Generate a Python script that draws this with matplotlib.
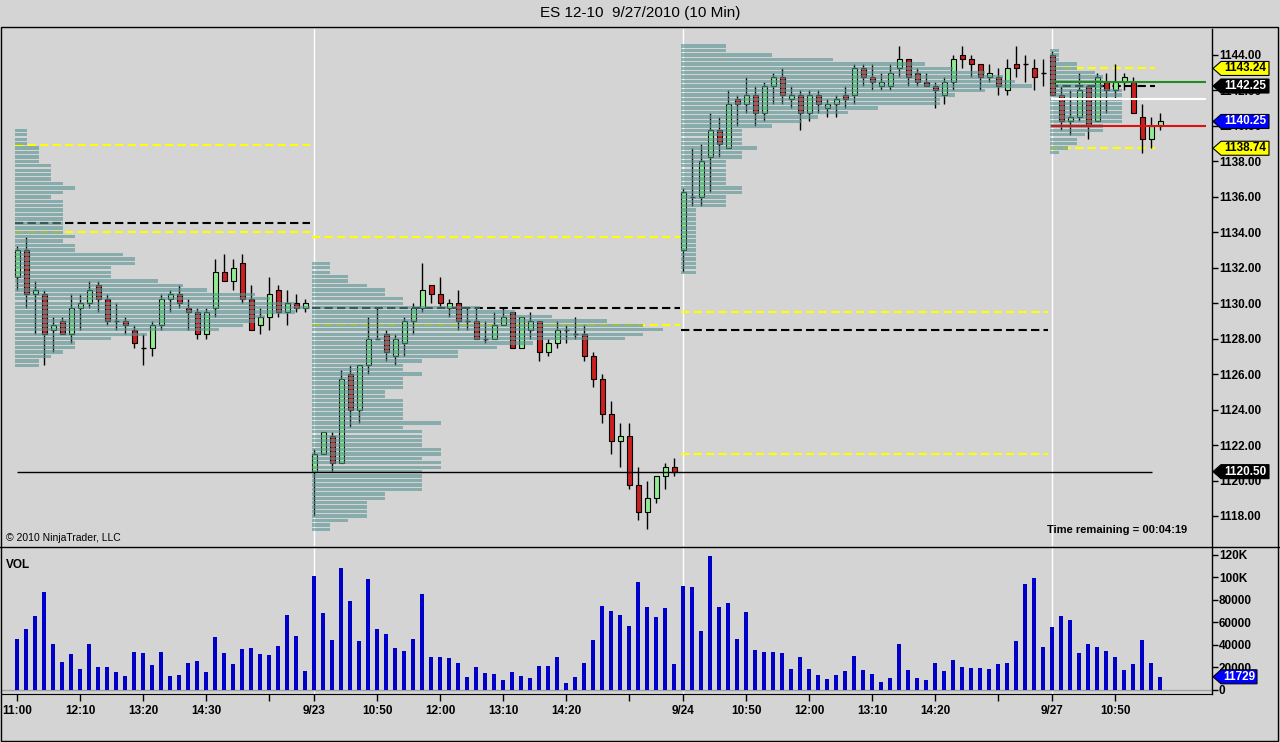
import matplotlib
matplotlib.use("Agg")
import matplotlib.pyplot as plt
import numpy as np
from matplotlib.patches import Polygon, Rectangle
from matplotlib.lines import Line2D
from matplotlib.transforms import IdentityTransform

plt.rcParams["font.family"] = ["Liberation Sans", "DejaVu Sans"]

# ---- data: ES 12-10, 10 minute bars, 9/22 (from 11:00) .. 9/27 ----
opens = [
    1131.5, 1133.0, 1130.5, 1130.5, 1128.5, 1129.0, 1128.25, 1129.75, 1130.0, 1131.0,
    1130.25, 1129.0, 1129.0, 1128.5, 1127.5, 1127.5, 1128.75, 1130.25, 1130.5, 1129.75,
    1129.5, 1128.25, 1129.75, 1131.75, 1131.25, 1132.25, 1130.25, 1128.75, 1129.25, 1130.75,
    1129.5, 1130.0, 1129.75,
    1120.5, 1121.5, 1122.5, 1121.0, 1126.0, 1124.0, 1126.5, 1128.0, 1128.25, 1127.0,
    1127.75, 1129.0, 1129.75, 1131.0, 1130.5, 1129.75, 1130.0, 1129.0, 1129.0, 1128.0,
    1128.0, 1128.75, 1129.5, 1127.5, 1128.5, 1129.0, 1127.25, 1127.75, 1128.5, 1128.25,
    1128.25, 1127.0, 1125.75, 1123.75, 1122.25, 1122.5, 1119.75, 1118.25, 1119.0, 1120.25,
    1120.75,
    1133.0, 1136.0, 1136.0, 1138.25, 1139.75, 1138.75, 1141.5, 1141.25, 1141.75, 1140.75,
    1142.25, 1142.75, 1141.5, 1141.75, 1140.75, 1141.75, 1141.0, 1141.25, 1141.75, 1141.75,
    1143.25, 1142.75, 1142.25, 1142.25, 1143.25, 1143.75, 1143.0, 1142.5, 1142.25, 1141.75,
    1142.5, 1144.0, 1143.75, 1143.5, 1142.75, 1142.75, 1142.0, 1143.5, 1143.5, 1143.25,
    1143.0,
    1144.0, 1141.75, 1140.25, 1140.5, 1142.25, 1140.25, 1142.5, 1142.0, 1142.5, 1142.5,
    1140.5, 1139.25, 1140.0,
]
highs = [
    1133.25, 1133.75, 1131.25, 1130.75, 1129.25, 1129.25, 1130.5, 1130.5, 1131.25, 1131.25,
    1130.5, 1130.0, 1129.25, 1128.75, 1128.25, 1129.0, 1130.5, 1130.75, 1131.0, 1130.25,
    1129.75, 1129.75, 1132.5, 1132.75, 1132.5, 1132.75, 1131.0, 1129.75, 1131.5, 1131.0,
    1130.75, 1130.5, 1130.25,
    1121.75, 1122.75, 1122.75, 1126.25, 1126.5, 1126.5, 1129.25, 1129.75, 1128.5, 1128.25,
    1129.25, 1130.0, 1132.25, 1131.0, 1131.5, 1130.25, 1130.75, 1129.75, 1129.75, 1129.0,
    1129.5, 1129.75, 1129.5, 1129.25, 1129.5, 1129.0, 1128.0, 1129.0, 1128.75, 1129.25,
    1128.75, 1127.25, 1126.0, 1124.5, 1123.25, 1123.25, 1120.75, 1120.0, 1120.25, 1121.0,
    1121.25,
    1136.5, 1138.75, 1139.0, 1140.75, 1140.5, 1142.0, 1141.75, 1142.75, 1142.25, 1142.5,
    1143.0, 1143.25, 1142.25, 1142.0, 1142.0, 1142.0, 1141.5, 1141.75, 1142.25, 1143.5,
    1143.5, 1143.5, 1143.0, 1143.5, 1144.5, 1143.75, 1143.25, 1143.0, 1142.5, 1142.75,
    1144.0, 1144.5, 1144.0, 1143.5, 1143.5, 1143.25, 1143.75, 1144.5, 1144.0, 1143.75,
    1143.75,
    1144.25, 1142.25, 1142.0, 1143.0, 1142.25, 1143.0, 1143.0, 1143.5, 1143.0, 1142.75,
    1141.25, 1140.5, 1140.75,
]
lows = [
    1130.75, 1129.75, 1128.25, 1126.5, 1127.25, 1128.25, 1127.75, 1128.5, 1129.75, 1129.5,
    1128.75, 1128.5, 1128.25, 1127.5, 1126.5, 1127.0, 1128.5, 1129.5, 1129.75, 1128.5,
    1128.0, 1128.0, 1129.25, 1131.25, 1130.75, 1130.0, 1128.5, 1128.25, 1128.5, 1129.25,
    1128.75, 1129.5, 1129.5,
    1118.0, 1121.5, 1120.5, 1121.0, 1123.0, 1123.25, 1126.0, 1128.0, 1126.75, 1126.5,
    1127.0, 1128.25, 1129.5, 1130.0, 1129.75, 1129.25, 1128.5, 1128.5, 1128.0, 1127.75,
    1128.0, 1128.75, 1127.5, 1127.5, 1128.0, 1126.75, 1127.0, 1127.5, 1127.75, 1128.0,
    1126.75, 1125.25, 1123.25, 1121.5, 1120.75, 1119.5, 1117.75, 1117.25, 1118.75, 1119.5,
    1120.25,
    1131.75, 1135.5, 1135.5, 1136.25, 1138.25, 1138.75, 1140.0, 1140.75, 1140.0, 1140.25,
    1141.25, 1141.25, 1141.0, 1139.75, 1140.25, 1140.75, 1140.5, 1140.5, 1141.0, 1141.25,
    1142.25, 1142.0, 1142.0, 1142.0, 1142.75, 1142.25, 1142.25, 1142.25, 1141.0, 1141.25,
    1142.0, 1143.25, 1142.75, 1142.0, 1142.5, 1141.75, 1141.75, 1142.75, 1142.5, 1142.0,
    1142.25,
    1141.75, 1139.75, 1139.5, 1140.25, 1139.25, 1140.25, 1140.75, 1141.5, 1142.0, 1140.75,
    1138.5, 1138.75, 1139.75,
]
closes = [
    1133.0, 1130.5, 1130.75, 1128.25, 1128.75, 1128.25, 1129.75, 1130.0, 1130.75, 1130.25,
    1129.0, 1129.0, 1128.75, 1127.75, 1127.5, 1128.75, 1130.25, 1130.5, 1130.0, 1129.5,
    1128.25, 1129.5, 1131.75, 1131.25, 1132.0, 1130.25, 1128.5, 1129.25, 1130.5, 1129.5,
    1130.0, 1129.75, 1130.0,
    1121.5, 1122.75, 1121.0, 1125.75, 1124.0, 1126.5, 1128.0, 1128.0, 1127.25, 1128.0,
    1129.0, 1129.75, 1130.75, 1130.5, 1130.0, 1130.0, 1129.0, 1129.0, 1128.0, 1128.0,
    1128.75, 1129.25, 1127.5, 1129.25, 1129.0, 1127.25, 1127.75, 1128.5, 1128.5, 1128.25,
    1127.0, 1125.75, 1123.75, 1122.25, 1122.5, 1119.75, 1118.25, 1119.0, 1120.25, 1120.75,
    1120.5,
    1136.25, 1136.0, 1138.0, 1139.75, 1139.0, 1141.25, 1141.25, 1141.75, 1140.75, 1142.25,
    1142.75, 1141.75, 1141.75, 1140.75, 1141.75, 1141.25, 1141.25, 1141.5, 1141.5, 1143.25,
    1142.75, 1142.5, 1142.5, 1143.0, 1143.75, 1142.75, 1142.5, 1142.25, 1142.0, 1142.5,
    1143.75, 1143.75, 1143.5, 1142.75, 1143.0, 1142.25, 1143.25, 1143.25, 1143.5, 1142.75,
    1143.0,
    1141.75, 1140.25, 1140.5, 1142.0, 1140.0, 1142.75, 1142.0, 1142.5, 1142.75, 1140.75,
    1139.25, 1140.0, 1140.25,
]
volumes = [
    45300, 54200, 65800, 87100, 40900, 24900, 32000, 18700, 40900, 20400,
    20400, 16000, 12400, 33800, 32900, 22200, 33800, 12400, 13300, 24000,
    25800, 16000, 47100, 32900, 23100, 36400, 37300, 32000, 31100, 39100,
    66700, 48000, 16900,
    101300, 68400, 44400, 108400, 79100, 43600, 98700, 54200, 49800, 37300,
    34700, 45300, 85300, 29300, 29300, 28400, 24000, 11600, 20400, 15100,
    14200, 8900, 16000, 12400, 10700, 21300, 21300, 29300, 6200, 11600,
    24000, 44400, 74700, 70200, 66700, 56900, 96000, 73800, 64900, 72900,
    23100,
    92400, 91600, 52400, 119100, 73800, 77300, 45300, 69300, 35600, 33800,
    33800, 32900, 18700, 29300, 18700, 13300, 9800, 13300, 16900, 30200,
    17800, 14200, 7100, 10700, 40900, 17800, 10700, 8900, 24000, 16900,
    26700, 20400, 19600, 19600, 18700, 23100, 24000, 43600, 94200, 99600,
    38200,
    56000, 65800, 62200, 32900, 40900, 38200, 34700, 29300, 17800, 23100,
    44400, 24000, 11729,
]

# first bar of each session (bar index)
session_starts = [0, 33, 74, 115]

# volume profile per session: top price and relative volume per 0.25 row (top to bottom)
profile_tops = [1139.75, 1132.25, 1144.5, 1144.25]
profile_day1 = [12, 12, 12, 12, 24, 24, 24, 24, 36, 36, 36, 36, 48, 60, 48, 36,
                48, 48, 48, 48, 48, 48, 48, 48, 60, 48, 60, 60, 108, 120, 120, 96,
                96, 96, 143, 168, 192, 240, 255, 280, 295, 280, 250, 240, 228, 204,
                132, 96, 60, 60, 48, 36, 24, 24]
profile_day2 = [18, 18, 18, 36, 36, 55, 73, 73, 91, 91, 168, 203, 240, 295, 331,
                351, 331, 313, 221, 185, 146, 146, 110, 91, 91, 110, 91, 91, 91, 73,
                73, 91, 91, 91, 91, 91, 129, 91, 110, 110, 110, 110, 129, 129, 110,
                129, 129, 110, 110, 110, 110, 110, 73, 73, 55, 55, 55, 55, 36, 18, 18]
profile_day3 = [45, 45, 91, 152, 244, 272, 304, 322, 334, 351, 304, 274, 259, 259,
                197, 167, 137, 121, 91, 61, 61, 61, 61, 76, 61, 61, 45, 45, 45, 45,
                45, 45, 61, 61, 45, 45, 45] + [15] * 15
profile_day4 = [9, 9, 9, 27, 27, 45, 53, 53, 53, 72, 72, 72, 72, 72, 72, 72, 72,
                53, 53, 35, 27, 27, 18, 9]
profiles = [profile_day1, profile_day2, profile_day3, profile_day4]

# prior-session value area high / POC / value area low, drawn in each session
va_high = [1138.9, 1133.75, 1129.5, 1143.24]
poc = [1134.5, 1129.75, 1128.5, 1142.25]
va_low = [1134.0, 1128.75, 1121.5, 1138.74]
level_ends = [32.5, 73.6, 114.5, 126.4]

prior_close = 1120.5
ib_high, ib_mid, ib_low = 1142.5, 1141.5, 1140.0

price_ticks = np.arange(1118, 1145, 2)
vol_ticks = [0, 20000, 40000, 60000, 80000, 100000, 120000]
vol_tick_labels = ["0", "20000", "40000", "60000", "80000", "100K", "120K"]
time_ticks = [0, 7, 14, 21, 28, 33, 40, 47, 54, 61, 68, 74, 81, 88, 95, 102, 109, 115, 122]
time_labels = ["11:00", "12:10", "13:20", "14:30", "", "9/23", "10:50", "12:00", "13:10",
               "14:20", "", "9/24", "10:50", "12:00", "13:10", "14:20", "", "9/27", "10:50"]

# ---- style ----
BG = "#D4D4D4"
UP = "#90EE90"
DOWN = "#CC1F1F"
PROFILE = "#5A9494"
VOLC = "#0000C8"
BODY_W = 0.55
PROFILE_SCALE = 1 / 9.0  # bars per profile unit
W, H = 1280, 742


def box(x0, y0, x1, y1):
    return [x0 / W, 1 - y1 / H, (x1 - x0) / W, (y1 - y0) / H]


fig = plt.figure(figsize=(W / 100, H / 100), dpi=100, facecolor=BG)
ax = fig.add_axes(box(2, 29, 1212, 546), facecolor=BG)
axv = fig.add_axes(box(2, 548, 1212, 694), facecolor=BG)

xlim = ((2 - 17.3) / 9, (1212 - 17.3) / 9)
for a in (ax, axv):
    a.set_xlim(*xlim)
    for s in ("left", "top"):
        a.spines[s].set_visible(False)
    a.spines["right"].set_linewidth(1)
ax.spines["bottom"].set_visible(False)
ax.set_ylim(1116.307, 1145.466)
axv.set_ylim(-3556, 126200)

for s in session_starts[1:]:
    ax.axvline(s, color="white", lw=1, zorder=0.5)
    axv.axvline(s, color="white", lw=1, zorder=0.5)

# candles
idx = np.arange(len(opens))
o, hi, lo, c = (np.array(v) for v in (opens, highs, lows, closes))
up, dn, flat = c > o, c < o, c == o
ax.vlines(idx, lo, hi, color="black", lw=1, zorder=2)
ax.bar(idx[up], (c - o)[up], bottom=o[up], width=BODY_W, color=UP,
       edgecolor="black", lw=0.8, zorder=3)
ax.bar(idx[dn], (o - c)[dn], bottom=c[dn], width=BODY_W, color=DOWN,
       edgecolor="black", lw=0.8, zorder=3)
ax.hlines(c[flat], idx[flat] - BODY_W / 2, idx[flat] + BODY_W / 2,
          color="black", lw=1, zorder=3)

# profiles and prior-session levels
dash = (0, (4, 2))
for k, start in enumerate(session_starts):
    vals = np.array(profiles[k], dtype=float)
    rows = profile_tops[k] - 0.25 * np.arange(len(vals))
    ax.barh(rows, vals * PROFILE_SCALE, left=start - 0.25, height=0.19,
            color=PROFILE, alpha=0.62, lw=0, zorder=4)
    x0, x1 = start - 0.25, level_ends[k]
    ax.hlines([va_high[k], va_low[k]], x0, x1, colors="#FFFF00", lw=1.5,
              linestyles=dash, zorder=1)
    ax.hlines(poc[k], x0, x1, colors="black", lw=1.5, linestyles=dash, zorder=1)

ax.hlines(prior_close, 0, 126.1, colors="black", lw=1, zorder=5)
last = session_starts[-1]
ax.hlines(ib_high, last + 0.1, 132.1, colors="#228B22", lw=1.5, zorder=5)
ax.hlines(ib_mid, last - 0.2, 132.1, colors="white", lw=1.5, zorder=5)
ax.hlines(ib_low, last - 0.2, 132.1, colors="#E01010", lw=1.5, zorder=5)

# volume
axv.axhline(0, color="#A0A0A0", lw=1, zorder=1)
axv.bar(idx, volumes, width=0.45, color=VOLC, lw=0, zorder=2)

# axes ticks
ax.set_xticks([])
ax.set_yticks(price_ticks, [f"{p:.2f}" for p in price_ticks], fontweight="bold")
ax.tick_params(axis="y", left=False, right=True, labelleft=False, labelright=True,
               direction="out", length=4, width=1, pad=1, labelsize=8.5)
axv.set_yticks(vol_ticks, vol_tick_labels, fontweight="bold")
axv.tick_params(axis="y", left=False, right=True, labelleft=False, labelright=True,
                direction="out", length=4, width=1, pad=1, labelsize=8.5)
axv.set_xticks(time_ticks, time_labels, fontweight="bold")
axv.tick_params(axis="x", direction="out", length=5, width=1, pad=3, labelsize=8.5)


def tag(axis, value, text, fc, tc, width=56):
    yd = axis.transData.transform((0, value))[1]
    xd = axis.transAxes.transform((1, 0))[0] + 1
    verts = [(xd, yd), (xd + 8, yd + 7), (xd + width, yd + 7),
             (xd + width, yd - 7), (xd + 8, yd - 7)]
    fig.add_artist(Polygon(verts, closed=True, transform=IdentityTransform(),
                           facecolor=fc, edgecolor="black", lw=0.8, zorder=10))
    fig.text(xd + 4 + width / 2, yd, text, transform=IdentityTransform(),
             ha="center", va="center", color=tc, fontsize=8.5,
             fontweight="bold", zorder=11)


tag(ax, va_high[-1], f"{va_high[-1]:.2f}", "#FFFF00", "black")
tag(ax, poc[-1], f"{poc[-1]:.2f}", "black", "white")
tag(ax, closes[-1], f"{closes[-1]:.2f}", "#0000FF", "white")
tag(ax, va_low[-1], f"{va_low[-1]:.2f}", "#FFFF00", "black")
tag(ax, prior_close, f"{prior_close:.2f}", "black", "white")
tag(axv, volumes[-1], f"{volumes[-1]}", "#0000FF", "white", width=44)

# frame and texts
fig.add_artist(Rectangle((1 / W, 1 - 741 / H), 1277 / W, 714 / H, transform=fig.transFigure,
                         fill=False, edgecolor="black", lw=1))
fig.add_artist(Line2D([0, 1], [1 - 547 / H] * 2, transform=fig.transFigure,
                      color="black", lw=1))
fig.text(640 / W, 1 - 13 / H, "ES 12-10  9/27/2010 (10 Min)", ha="center",
         va="center", fontsize=11)
fig.text(6 / W, 1 - 538 / H, "\u00a9 2010 NinjaTrader, LLC", ha="left", va="center",
         fontsize=7.5)
fig.text(1187 / W, 1 - 530 / H, "Time remaining = 00:04:19", ha="right", va="center",
         fontsize=8, fontweight="bold")
fig.text(6 / W, 1 - 565 / H, "VOL", ha="left", va="center", fontsize=8.5,
         fontweight="bold")

fig.savefig("out.png", dpi=100, facecolor=BG)
